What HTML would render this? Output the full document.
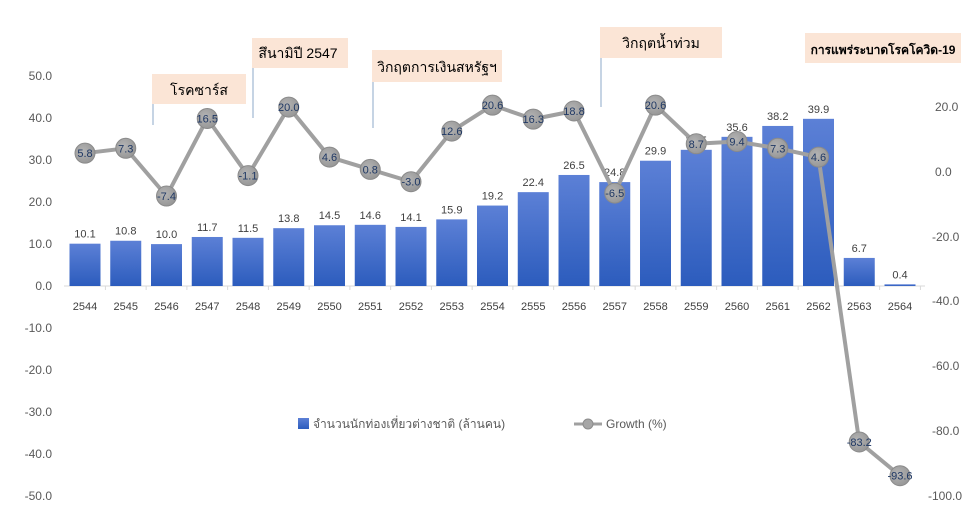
<!DOCTYPE html>
<html><head><meta charset="utf-8"><style>
body{margin:0;background:#fff;}
svg text{font-family:"Liberation Sans","Noto Sans CJK SC",sans-serif;}
</style></head><body>
<svg width="973" height="517" viewBox="0 0 973 517" xmlns="http://www.w3.org/2000/svg">
<defs>
<linearGradient id="g" x1="0" y1="0" x2="0" y2="1">
<stop offset="0" stop-color="#5c80d6"/><stop offset="1" stop-color="#2c5cbd"/>
</linearGradient>
<radialGradient id="m" cx="0.4" cy="0.4" r="0.7">
<stop offset="0" stop-color="#b4b4b4"/><stop offset="1" stop-color="#939393"/>
</radialGradient>
</defs>
<g font-size="12" fill="#595959" text-anchor="end">
<text x="52" y="80">50.0</text><text x="52" y="122">40.0</text><text x="52" y="164">30.0</text>
<text x="52" y="206">20.0</text><text x="52" y="248">10.0</text><text x="52" y="290">0.0</text>
<text x="52" y="332">-10.0</text><text x="52" y="374">-20.0</text><text x="52" y="416">-30.0</text>
<text x="52" y="458">-40.0</text><text x="52" y="500">-50.0</text>
</g>
<g font-size="12" fill="#595959" text-anchor="start">
<text x="935" y="111">20.0</text><text x="935" y="176">0.0</text><text x="932" y="241">-20.0</text>
<text x="932" y="305">-40.0</text><text x="932" y="370">-60.0</text><text x="932" y="435">-80.0</text>
<text x="928" y="500">-100.0</text>
</g>
<line x1="64" y1="286" x2="925" y2="286" stroke="#d9d9d9" stroke-width="1"/>
<g id="bars"></g>
<g stroke="#8ea9c8" stroke-width="1">
<line x1="153" y1="104" x2="153" y2="125"/><line x1="253" y1="68" x2="253" y2="118"/>
<line x1="373" y1="82" x2="373" y2="128"/><line x1="601" y1="58" x2="601" y2="107"/>
</g>
<g fill="#fbe5d6">
<rect x="152" y="74" width="94" height="30"/><rect x="252" y="38" width="96" height="30"/>
<rect x="372" y="50" width="130" height="32"/><rect x="600" y="27" width="122" height="31"/>
<rect x="805" y="33" width="156" height="30"/>
</g>
<g font-size="14" fill="#000" text-anchor="middle">
<text x="199" y="95">โรคซาร์ส</text><text x="298" y="58">สึนามิปี 2547</text>
<text x="437" y="72">วิกฤตการเงินสหรัฐฯ</text><text x="661" y="48">วิกฤตน้ำท่วม</text>
<text x="883" y="54" font-weight="bold" font-size="12">การแพร่ระบาดโรคโควิด-19</text>
</g>
<g id="line"></g>
<rect x="298" y="418" width="11" height="11" fill="url(#g)"/>
<text x="313" y="428" font-size="12" fill="#595959">จำนวนนักท่องเที่ยวต่างชาติ (ล้านคน)</text>
<line x1="574" y1="424" x2="602" y2="424" stroke="#a0a0a0" stroke-width="3"/>
<circle cx="588" cy="424" r="5" fill="#a6a6a6" stroke="#8c8c8c"/>
<text x="606" y="428" font-size="12" fill="#595959">Growth (%)</text>
<script>
(function(){
var tv=[10.1,10.8,10.0,11.7,11.5,13.8,14.5,14.6,14.1,15.9,19.2,22.4,26.5,24.8,29.9,32.5,35.6,38.2,39.9,6.7,0.4];
var gr=[5.8,7.3,-7.4,16.5,-1.1,20.0,4.6,0.8,-3.0,12.6,20.6,16.3,18.8,-6.5,20.6,8.7,9.4,7.3,4.6,-83.2,-93.6];
var ns="http://www.w3.org/2000/svg",b=document.getElementById("bars"),l=document.getElementById("line");
function el(p,t,a,txt){var e=document.createElementNS(ns,t);for(var k in a)e.setAttribute(k,a[k]);if(txt!=null)e.textContent=txt;p.appendChild(e);return e;}
var pts=[];
for(var i=0;i<21;i++){
 var cx=85+i*40.75, ty=286-tv[i]*4.19;
 el(b,"rect",{x:cx-15.5,y:ty,width:31,height:286-ty,fill:"url(#g)"});
 el(b,"line",{x1:cx+20.4,y1:286,x2:cx+20.4,y2:290,stroke:"#d9d9d9"});
 el(b,"text",{x:cx,y:ty-6,"font-size":"11","fill":"#404040","text-anchor":"middle"},tv[i].toFixed(1));
 el(b,"text",{x:cx,y:310,"font-size":"11","fill":"#404040","text-anchor":"middle"},""+(2544+i));
 pts.push([cx,172-gr[i]*3.245]);
}
el(l,"polyline",{points:pts.map(function(p){return p.join(",")}).join(" "),fill:"none",stroke:"#a0a0a0","stroke-width":"4","stroke-linejoin":"round"});
for(var i=0;i<21;i++){
 el(l,"circle",{cx:pts[i][0],cy:pts[i][1],r:10,fill:"url(#m)",stroke:"#8a8a8a","stroke-width":"1"});
 el(l,"text",{x:pts[i][0],y:pts[i][1]+4,"font-size":"11","fill":"#1f3864","text-anchor":"middle"},gr[i].toFixed(1));
}
})();
</script>
</svg>
</body></html>
